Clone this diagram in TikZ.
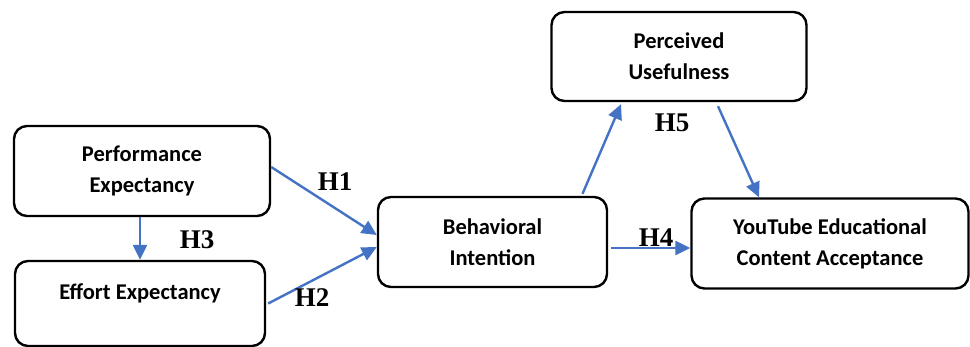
\documentclass[tikz,border=0pt]{standalone}
\usepackage{fontspec}
\setmainfont{Liberation Serif}
\newfontfamily\boxfont{Carlito}
\usetikzlibrary{arrows.meta,calc}
\definecolor{arrowblue}{HTML}{4472C4}
\tikzset{
  box/.style={draw=black, line width=2.4pt, rounded corners=13pt, fill=white,
    align=center, inner sep=0pt, font=\boxfont\bfseries\fontsize{22.5}{31}\selectfont},
  boxtext/.style={align=center, inner sep=0pt, font=\boxfont\bfseries\fontsize{22.5}{31}\selectfont},
  hyp/.style={font=\bfseries\fontsize{27}{27}\selectfont, inner sep=0pt},
  link/.style={draw=arrowblue, line width=2.4pt, -{Triangle[length=15pt,width=14pt]}, arrowblue}
}
\begin{document}
\begin{tikzpicture}[x=1pt,y=-1pt]
\useasboundingbox (0,0) rectangle (970,347);
% boxes
\node[box, minimum width=256, minimum height=90] (pe) at (142,171) {Performance\\Expectancy};
\node[box, minimum width=250, minimum height=85] (ee) at (140,303.5) {};
\node[boxtext] (eet) at (140,293) {Effort Expectancy};
\node[box, minimum width=229, minimum height=90] (bi) at (492.5,242) {Behavioral\\Intention};
\node[box, minimum width=255, minimum height=89] (pu) at (679,56.5) {Perceived\\Usefulness};
\node[box, minimum width=277, minimum height=90] (yt) at (830,243.5) {YouTube Educational\\Content Acceptance};
% connectors
\draw[link] ($(pe.east)+(0,-4)$) -- ($(bi.west)+(0,-7)$);
\draw[link] ($(ee.east)+(2,0)$) -- ($(bi.west)+(0,5)$);
\draw[link] ($(pe.south)+(-2,0)$) -- (ee.north);
\draw[link] ($(bi.north)+(90,-2)$) -- ($(pu.south)+(-58,2)$);
\draw[link] ($(pu.south)+(39,4)$) -- ($(yt.north)+(-71,0)$);
\draw[link] ($(bi.east)+(3,6)$) -- ($(yt.west)+(0,4.5)$);
% labels
\node[hyp] (h1) at (335,182) {H1};
\node[hyp] (h2) at (312,298) {H2};
\node[hyp] (h3) at (197,240) {H3};
\node[hyp] (h4) at (656,238) {H4};
\node[hyp] (h5) at (672,123) {H5};
\end{tikzpicture}
\end{document}
